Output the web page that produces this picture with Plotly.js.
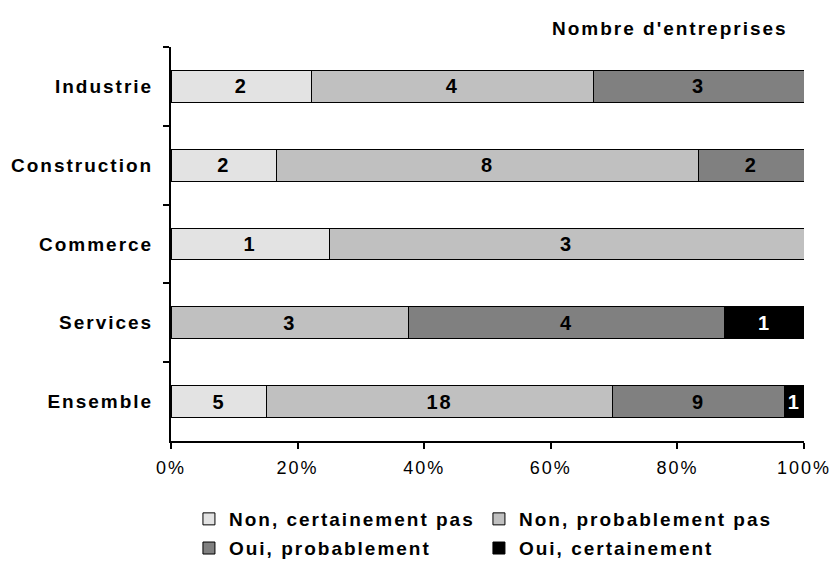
<!DOCTYPE html>
<html>
<head>
<meta charset="utf-8">
<script src="https://cdn.plot.ly/plotly-3.0.1.min.js"></script>
<style>
  html, body { margin: 0; padding: 0; background: #ffffff; }
  #chart { width: 834px; height: 567px; }
  /* wide letter spacing for every label, including Plotly's measuring node */
  text { letter-spacing: 2px; }
</style>
</head>
<body>
<div id="chart"></div>
<script>
// Sectors, top to bottom
const sectors = ['Industrie', 'Construction', 'Commerce', 'Services', 'Ensemble'];

// Number of firms per answer
const nonCertainement = [2, 2, 1, 0, 5];
const nonProbablement = [4, 8, 3, 3, 18];
const ouiProbablement = [3, 2, 0, 4, 9];
const ouiCertainement = [0, 0, 0, 1, 1];

const seriesNames = ['Non, certainement pas', 'Non, probablement pas', 'Oui, probablement', 'Oui, certainement'];
const seriesCounts = [nonCertainement, nonProbablement, ouiProbablement, ouiCertainement];
const seriesColors = ['#e3e3e3', '#c0c0c0', '#808080', '#000000'];
const labelColors = ['#000000', '#000000', '#000000', '#ffffff'];
// two legend rows: "Non" answers on the first, "Oui" answers on the second
const legendRows = ['legend', 'legend', 'legend2', 'legend2'];

const totals = sectors.map((_, i) => seriesCounts.reduce((s, arr) => s + arr[i], 0));

const FONT = 'Liberation Sans, Arial, sans-serif';

const traces = seriesCounts.map((counts, k) => ({
  type: 'bar',
  orientation: 'h',
  name: seriesNames[k],
  legend: legendRows[k],
  y: sectors,
  x: counts.map((c, i) => c / totals[i] * 100),
  text: counts.map(c => c > 0 ? String(c) : ''),
  textposition: 'inside',
  insidetextanchor: 'middle',
  textangle: 0,
  constraintext: 'none',
  textfont: { family: FONT, size: 20, color: labelColors[k], weight: 'bold' },
  marker: { color: seriesColors[k], line: { color: '#000000', width: 1 } },
  hoverinfo: 'name+text'
}));

const legendStyle = (yPos) => ({
  orientation: 'h',
  x: 0.041, xanchor: 'left',
  y: yPos, yanchor: 'middle',
  entrywidth: 253,
  entrywidthmode: 'pixels',
  traceorder: 'normal',
  itemwidth: 30,
  indentation: -8,
  font: { family: FONT, size: 19, weight: 'bold', color: '#000000' },
  bgcolor: 'rgba(0,0,0,0)'
});

const layout = {
  width: 834,
  height: 567,
  margin: { l: 171, r: 30, t: 47, b: 126, autoexpand: false },
  paper_bgcolor: '#ffffff',
  plot_bgcolor: '#ffffff',
  barmode: 'stack',
  bargap: 0.595,
  font: { family: FONT, color: '#000000' },
  showlegend: true,
  legend: legendStyle(-0.198),
  legend2: legendStyle(-0.272),
  xaxis: {
    range: [0, 100],
    dtick: 20,
    ticksuffix: '%',
    showgrid: false,
    zeroline: false,
    showline: true,
    linecolor: '#000000',
    linewidth: 2,
    ticks: 'outside',
    ticklen: 6,
    tickwidth: 2,
    tickcolor: '#000000',
    ticklabelstandoff: 3,
    tickfont: { family: FONT, size: 18, color: '#000000' },
    fixedrange: true
  },
  yaxis: {
    autorange: 'reversed',
    showgrid: false,
    zeroline: false,
    showline: true,
    linecolor: '#000000',
    linewidth: 2,
    ticks: 'outside',
    tickson: 'boundaries',
    ticklen: 6,
    tickwidth: 2,
    tickcolor: '#000000',
    ticklabelstandoff: 12,
    tickfont: { family: FONT, size: 19, weight: 'bold', color: '#000000' },
    fixedrange: true
  },
  annotations: [{
    text: "Nombre d'entreprises",
    xref: 'paper', yref: 'paper',
    x: 0.978, y: 1.048,
    xanchor: 'right', yanchor: 'middle',
    showarrow: false,
    font: { family: FONT, size: 19, weight: 'bold', color: '#000000' }
  }]
};

Plotly.newPlot('chart', traces, layout, { displayModeBar: false, staticPlot: true });
</script>
</body>
</html>
